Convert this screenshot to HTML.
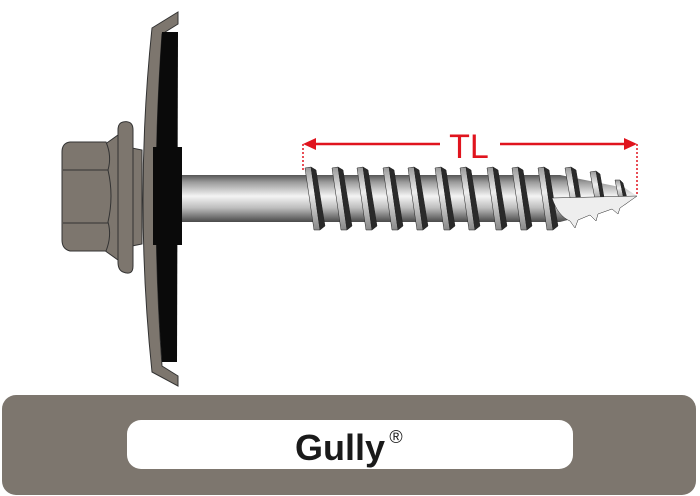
<!DOCTYPE html>
<html><head><meta charset="utf-8"><style>
html,body{margin:0;padding:0;background:#fff;width:700px;height:496px;overflow:hidden}
</style></head><body>
<svg width="700" height="496" viewBox="0 0 700 496" xmlns="http://www.w3.org/2000/svg">
<defs>
<linearGradient id="sh" x1="0" y1="0" x2="0" y2="1">
<stop offset="0" stop-color="#555"/><stop offset="0.15" stop-color="#9a9a9a"/><stop offset="0.45" stop-color="#f4f4f4"/><stop offset="0.7" stop-color="#bdbdbd"/><stop offset="1" stop-color="#4a4a4a"/>
</linearGradient>
<linearGradient id="lt" x1="0" y1="0" x2="0" y2="1">
<stop offset="0" stop-color="#999"/><stop offset="0.4" stop-color="#eee"/><stop offset="1" stop-color="#888"/>
</linearGradient>
</defs>
<!-- washer -->
<path d="M178,12 L178,24 L162,34 Q150,200 162,366 L178,376 L178,386 L152,372 Q134,200 152,28 Z" fill="#7d766e" stroke="#333" stroke-width="1"/>
<path d="M162,32 L178,32 L177,362 L162,362 Q150,200 162,32 Z" fill="#0a0a0a"/>
<rect x="153" y="147" width="29" height="98" fill="#0a0a0a"/>
<!-- head -->
<path d="M132,148 L142,150 L142,244 L132,246 Z" fill="#7d766e" stroke="#333"/>
<path d="M123,122 Q133,120 133,130 L133,266 Q133,276 123,272 Q118,270 118,262 L118,130 Q118,123 123,122 Z" fill="#7d766e" stroke="#333"/>
<path d="M104,145 L118,135 L118,260 L104,250 Z" fill="#7d766e" stroke="#333"/>
<path d="M70,142 L106,142 Q112,156 108,170 Q114,196 108,222 Q112,236 106,251 L70,251 Q62,249 62,240 L62,152 Q62,143 70,142 Z" fill="#7d766e" stroke="#333"/>
<line x1="63" y1="170" x2="108" y2="170" stroke="#333"/>
<line x1="63" y1="223" x2="108" y2="223" stroke="#333"/>
<!-- shank -->
<rect x="182" y="175" width="130" height="47" fill="url(#sh)"/>
<path d="M300,175 L560,175 L625,188 L637,196 L625,205 L560,222 L300,222 Z" fill="url(#sh)"/>
<g stroke="#222" stroke-width="0.5">
<g id="t">
<path d="M305,168 L311,167 L320,230 L314,230 Z" fill="url(#lt)"/>
<path d="M311,167 L316,170 L325,226 L320,230 Z" fill="#2a2a2a"/>
</g>
<use href="#t" x="27"/><use href="#t" x="52"/><use href="#t" x="78"/><use href="#t" x="103"/>
<use href="#t" x="130"/><use href="#t" x="155"/><use href="#t" x="182"/><use href="#t" x="207"/><use href="#t" x="233"/>
<path d="M565,168 L571,167 L579,215 L573,215 Z" fill="url(#lt)"/><path d="M571,167 L576,170 L583,212 L579,215 Z" fill="#2a2a2a"/>
<path d="M590,172 L596,171 L602,205 L596,205 Z" fill="url(#lt)"/><path d="M596,171 L600,174 L605,203 L602,205 Z" fill="#2a2a2a"/>
<path d="M615,180 L620,180 L624,200 L619,200 Z" fill="url(#lt)"/><path d="M620,180 L623,183 L627,198 L624,200 Z" fill="#2a2a2a"/>
<path d="M552,198 L637,196 L620,208 L618,214 L612,209 L598,214 L596,221 L590,215 L578,220 L575,228 L570,221 Q558,216 552,198 Z" fill="#eee"/>
</g>
<!-- TL dimension -->
<g stroke="#e0141e" fill="#e0141e">
<line x1="303" y1="144" x2="303" y2="172" stroke-dasharray="2,2" stroke-width="1.5"/>
<line x1="637" y1="144" x2="637" y2="196" stroke-dasharray="2,2" stroke-width="1.5"/>
<line x1="312" y1="144" x2="440" y2="144" stroke-width="2.5"/>
<line x1="500" y1="144" x2="628" y2="144" stroke-width="2.5"/>
<path d="M303,144 L316,138 L316,150 Z" stroke="none"/>
<path d="M637,144 L624,138 L624,150 Z" stroke="none"/>
</g>
<text x="469" y="158" font-family="Liberation Sans, sans-serif" font-size="34" fill="#e0141e" text-anchor="middle">TL</text>
<!-- bottom bar -->
<rect x="2" y="395" width="694" height="100" rx="14" fill="#7d766e"/>
<rect x="127" y="420" width="446" height="49" rx="14" fill="#fff"/>
<text x="340" y="460" font-family="Liberation Sans, sans-serif" font-weight="bold" font-size="36" fill="#1a1a1a" text-anchor="middle">Gully</text>
<text x="396" y="443" font-family="Liberation Sans, sans-serif" font-size="18" fill="#1a1a1a" text-anchor="middle">®</text>
</svg>
</body></html>
